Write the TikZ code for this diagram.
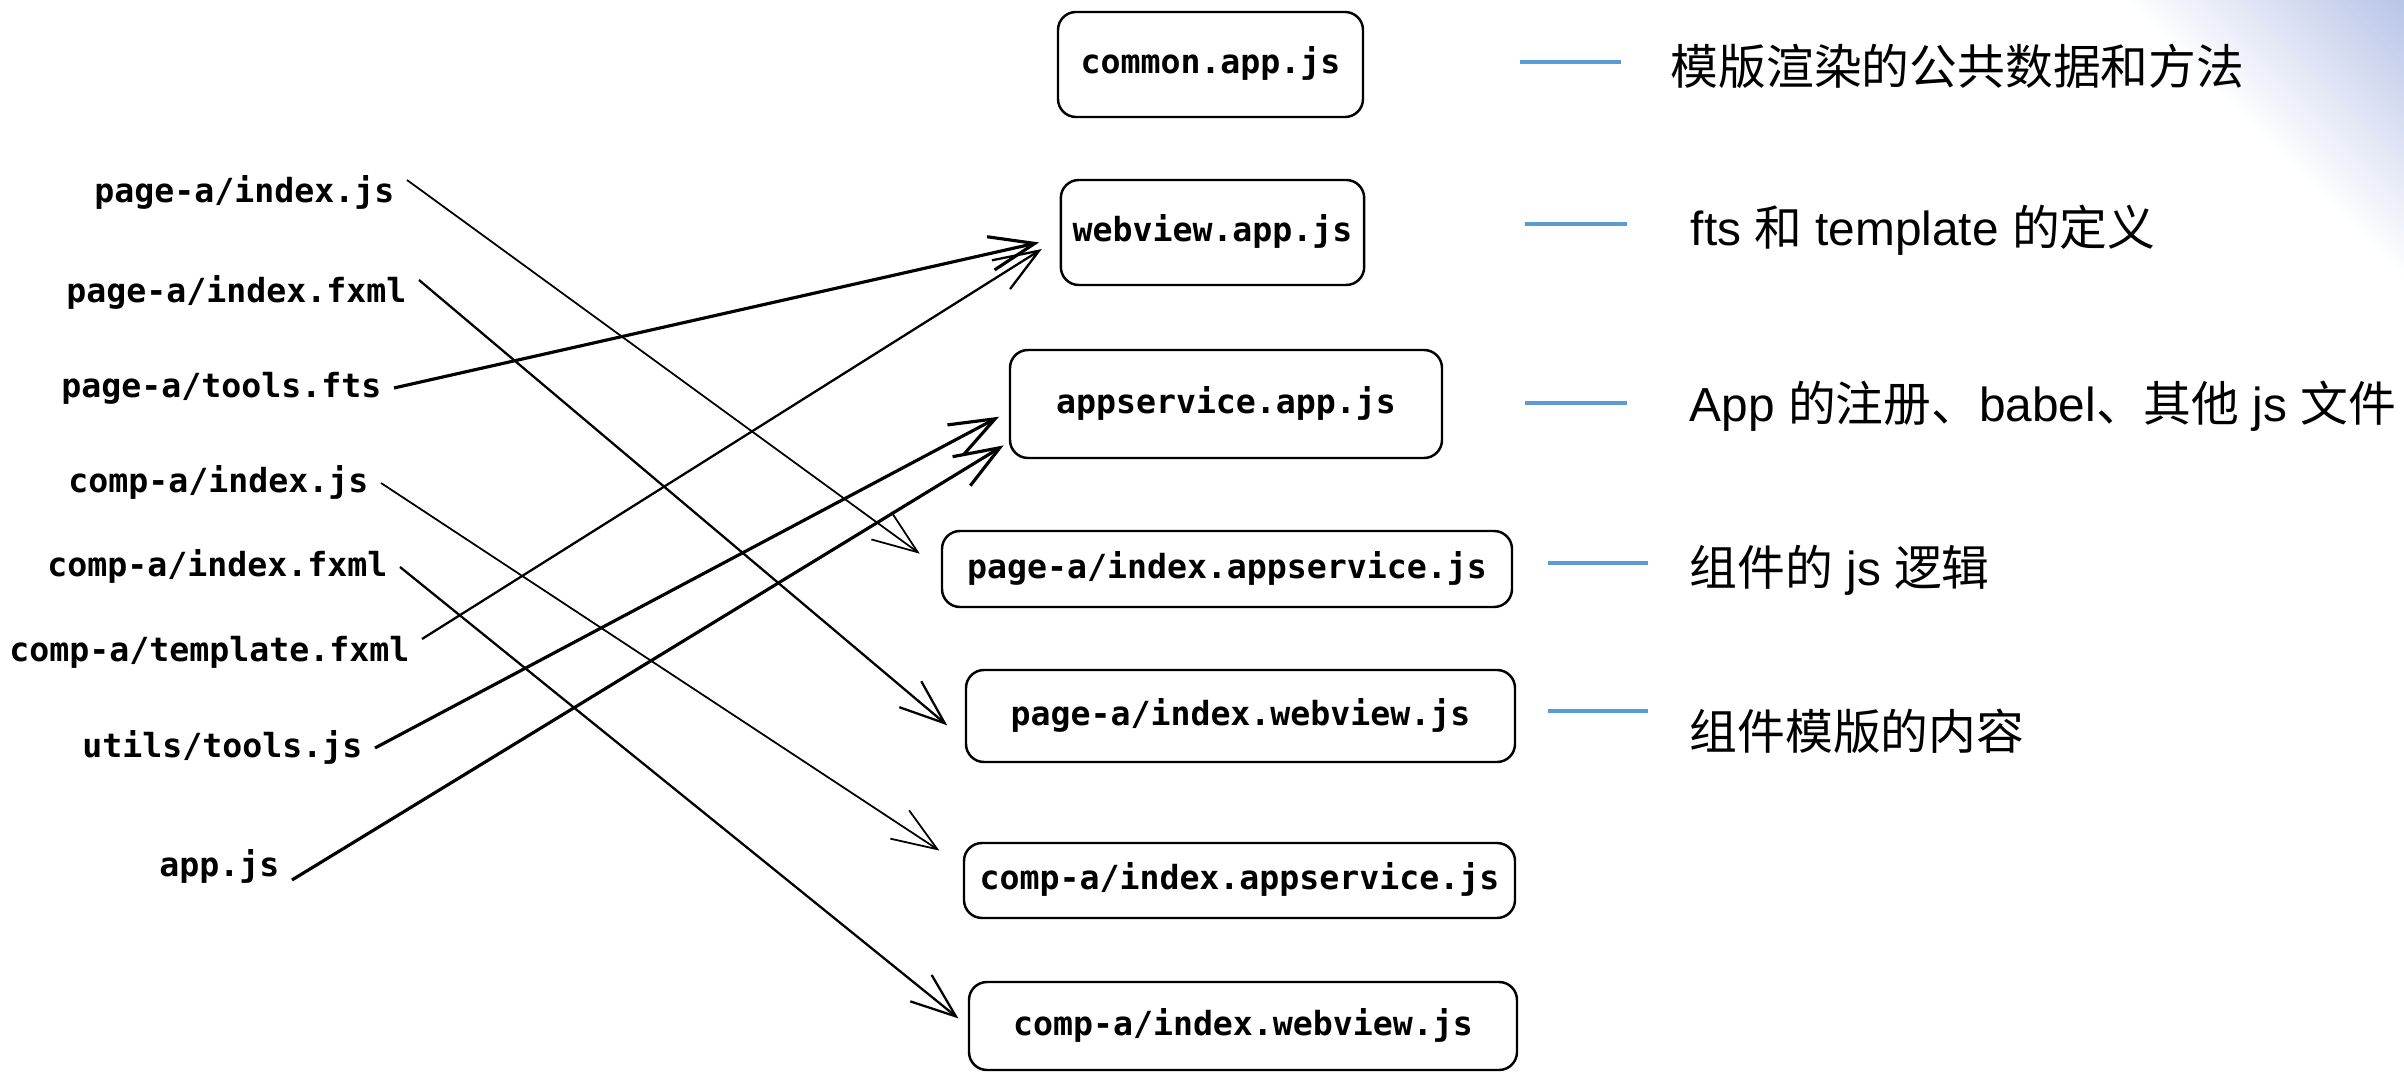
\documentclass[tikz,border=0pt]{standalone}
\usepackage{fontspec}
\setmainfont{Liberation Sans}
\setmonofont{DejaVu Sans Mono}
\newfontfamily\cjk{Noto Sans CJK SC}
\usetikzlibrary{arrows.meta}
\definecolor{barblue}{RGB}{91,155,213}
\definecolor{cornerblue}{RGB}{184,196,232}

\begin{document}
\begin{tikzpicture}
		\tikzstyle{file}=[anchor=east, inner xsep=0.12cm, inner ysep=0.03cm, text height=1ex, text depth=0pt, font=\fontsize{9.45pt}{11pt}\ttfamily\bfseries]
		\tikzstyle{bundle}=[draw, rounded corners=0.18cm, line width=0.7pt, text height=1ex, text depth=0pt, font=\fontsize{9.45pt}{11pt}\ttfamily\bfseries]
		\tikzstyle{note}=[anchor=base west, inner sep=0pt, font=\fontsize{13.6pt}{16pt}\selectfont]
		\tikzstyle{link}=[line width=0.65pt, -{Straight Barb[length=0.45cm, width=0.34cm]}]
		\tikzstyle{heavy link}=[link, line width=0.9pt]
		\tikzstyle{bar}=[barblue, line width=1.1pt]
		\useasboundingbox (0,0) rectangle (24.04,-10.72);
		\begin{scope}
			\clip (0,0) rectangle (24.04,-10.72);
			\begin{scope}[shift={(24.04,0)}, rotate=45]
				\foreach \i in {0,...,50}{
					\pgfmathsetmacro\pos{-2.0+0.04*\i}
					\pgfmathtruncatemacro\pct{2*\i}
					\fill[cornerblue!\pct!white] (\pos,-3) rectangle (0.2,3);
				}
			\end{scope}
		\end{scope}

		\node[file] (pa-js) at (4.07,-1.93) {page-a/index.js};
		\node[file] (pa-fxml) at (4.19,-2.93) {page-a/index.fxml};
		\node[file] (pa-fts) at (3.94,-3.88) {page-a/tools.fts};
		\node[file] (ca-js) at (3.81,-4.83) {comp-a/index.js};
		\node[file] (ca-fxml) at (4.00,-5.67) {comp-a/index.fxml};
		\node[file] (ca-tpl) at (4.22,-6.52) {comp-a/template.fxml};
		\node[file] (ut-js) at (3.75,-7.48) {utils/tools.js};
		\node[file] (app-js) at (2.92,-8.67) {app.js};

		\node[bundle, minimum width=3.05cm, minimum height=1.05cm] (common) at (12.105,-0.645) {common.app.js};
		\node[bundle, minimum width=3.03cm, minimum height=1.05cm] (webview) at (12.125,-2.325) {webview.app.js};
		\node[bundle, minimum width=4.32cm, minimum height=1.08cm] (appsvc) at (12.26,-4.04) {appservice.app.js};
		\node[bundle, minimum width=5.70cm, minimum height=0.76cm] (pa-appsvc) at (12.27,-5.69) {page-a/index.appservice.js};
		\node[bundle, minimum width=5.49cm, minimum height=0.92cm] (pa-webview) at (12.405,-7.16) {page-a/index.webview.js};
		\node[bundle, minimum width=5.51cm, minimum height=0.75cm] (ca-appsvc) at (12.395,-8.805) {comp-a/index.appservice.js};
		\node[bundle, minimum width=5.48cm, minimum height=0.88cm] (ca-webview) at (12.43,-10.26) {comp-a/index.webview.js};

		\draw[bar] (15.20,-0.62) -- (16.21,-0.62);
		\draw[bar] (15.25,-2.24) -- (16.27,-2.24);
		\draw[bar] (15.25,-4.03) -- (16.27,-4.03);
		\draw[bar] (15.48,-5.63) -- (16.48,-5.63);
		\draw[bar] (15.48,-7.11) -- (16.48,-7.11);

		\node[note] (n-common) at (16.70,-0.85) {{\cjk 模版渲染的公共数据和方法}};
		\node[note] (n-webview) at (16.90,-2.46) {fts {\cjk 和} template {\cjk 的定义}};
		\node[note] (n-appsvc) at (16.89,-4.22) {App {\cjk 的注册、}babel{\cjk 、其他} js {\cjk 文件}};
		\node[note] (n-js) at (16.89,-5.86) {{\cjk 组件的} js {\cjk 逻辑}};
		\node[note] (n-tpl) at (16.89,-7.50) {{\cjk 组件模版的内容}};

		\draw[link, line width=0.5pt, shorten >=0.26cm] (pa-js.north east) -- (pa-appsvc.west);
		\draw[link, shorten >=0.23cm] (pa-fxml.north east) -- (pa-webview.185);
		\draw[heavy link, shorten >=0.21cm] (pa-fts.east) -- (webview.182);
		\draw[link, line width=0.5pt, shorten >=0.28cm] (ca-js.east) -- (ca-appsvc.177);
		\draw[link, shorten >=0.12cm] (ca-fxml.east) -- (ca-webview.west);
		\draw[link, shorten >=0.21cm] (ca-tpl.north east) -- (webview.182);
		\draw[heavy link, shorten >=0.11cm] (ut-js.east) -- (appsvc.182);
		\draw[heavy link, shorten >=0.06cm] (app-js.south east) -- (appsvc.190);
\end{tikzpicture}
\end{document}
